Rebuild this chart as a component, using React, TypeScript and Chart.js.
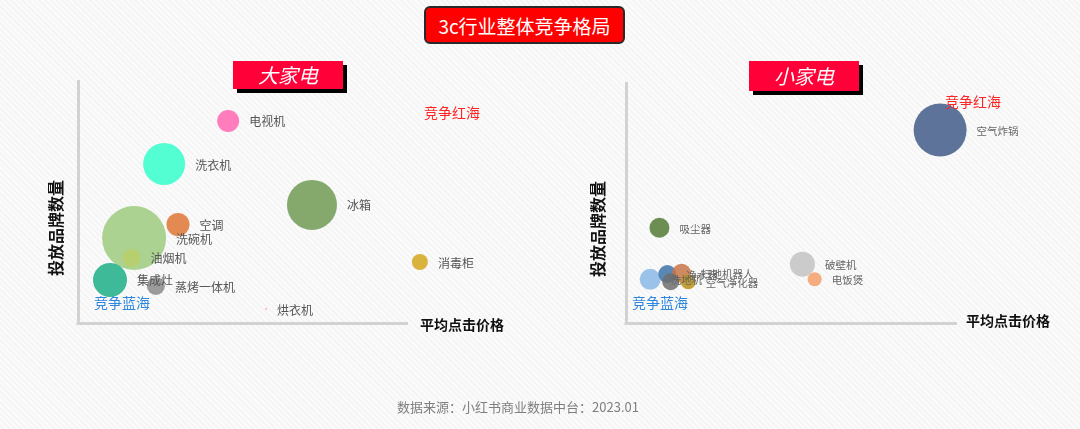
import React, { useEffect, useRef } from "react";
import { Chart, registerables } from "chart.js";

Chart.register(...registerables);

// ---------- axis range (the drawn axis line ends at AXIS_END; the scale runs a little further) ----------
const AXIS_END = 100;
const SCALE_MAX_X = 108;

// ---------- data: 大家电 ----------
const bigNames = ["洗碗机", "集成灶", "油烟机", "电视机", "洗衣机", "冰箱", "空调", "蒸烤一体机", "消毒柜", "烘衣机"];
const bigPrice = [17.0, 9.7, 16.2, 45.5, 26.1, 70.9, 30.3, 23.6, 103.6, 57.0];
const bigBrands = [35.1, 17.8, 26.9, 83.5, 65.7, 48.8, 40.7, 15.3, 25.2, 5.8];
const bigSize = [32, 17, 9, 11, 21, 25, 11.5, 9, 8, 1];
const bigColors = [
  "rgba(166,208,138,0.95)",
  "rgba(52,182,146,0.95)",
  "rgba(184,206,104,0.85)",
  "rgba(255,118,184,0.95)",
  "rgba(74,255,208,0.95)",
  "rgba(126,164,100,0.95)",
  "rgba(224,132,72,0.95)",
  "rgba(150,150,150,0.95)",
  "rgba(216,174,52,0.95)",
  "rgba(255,170,190,0.95)",
];

// ---------- data: 小家电 ----------
const smallNames = ["洗地机", "净水器", "扫地机器人", "", "空气净化器", "空气炸锅", "吸尘器", "破壁机", "电饭煲"];
const smallPrice = [7.3, 12.5, 16.8, 13.5, 18.8, 94.9, 10.1, 53.3, 57.0];
const smallBrands = [18.2, 20.4, 20.7, 17.2, 17.2, 80.4, 39.7, 24.5, 18.2];
const smallSize = [10.5, 9, 9.5, 8.5, 7.5, 26.5, 10, 12.5, 7];
const smallColors = [
  "rgba(150,192,232,0.95)",
  "rgba(72,122,172,0.9)",
  "rgba(200,118,70,0.85)",
  "rgba(110,110,110,0.85)",
  "rgba(190,150,36,0.9)",
  "rgba(88,110,150,0.97)",
  "rgba(104,138,76,0.97)",
  "rgba(200,200,200,0.95)",
  "rgba(244,168,120,0.95)",
];

const CJK = '"Noto Sans CJK SC", "Noto Sans", sans-serif';
const AXIS_COLOR = "#d2d2d2";

const labelPlugin = {
  id: "bubbleLabels",
  afterDatasetsDraw(chart: any, _args: any, opts: any) {
    const ctx = chart.ctx;
    const meta = chart.getDatasetMeta(0);
    const ds = chart.data.datasets[0];
    ctx.save();
    ctx.font = opts.font;
    ctx.fillStyle = opts.color;
    ctx.textBaseline = "middle";
    ctx.textAlign = "left";
    meta.data.forEach((el: any, i: number) => {
      const name = chart.data.labels[i];
      if (!name) return;
      const raw = ds.data[i];
      ctx.fillText(name, el.x + raw.r + opts.gap, el.y + 1);
    });
    ctx.restore();
  },
};

// x axis line, drawn from the y axis to the value AXIS_END on the x scale
const xAxisLinePlugin = {
  id: "xAxisLine",
  beforeDatasetsDraw(chart: any) {
    const { ctx, chartArea } = chart;
    const xs = chart.scales.x;
    ctx.save();
    ctx.strokeStyle = AXIS_COLOR;
    ctx.lineWidth = 3;
    ctx.beginPath();
    ctx.moveTo(chartArea.left - 1.5, chartArea.bottom + 0.5);
    ctx.lineTo(xs.getPixelForValue(AXIS_END), chartArea.bottom + 0.5);
    ctx.stroke();
    ctx.restore();
  },
};

function makeConfig(
  names: string[],
  xs: number[],
  ys: number[],
  rs: number[],
  colors: string[],
  padding: { left: number; right: number; top: number; bottom: number },
  labelFont: string,
  labelColor: string
): any {
  return {
    type: "bubble",
    data: {
      labels: names,
      datasets: [
        {
          data: names.map((_, i) => ({ x: xs[i], y: ys[i], r: rs[i] })),
          backgroundColor: colors,
          borderWidth: 0,
          clip: false,
        },
      ],
    },
    options: {
      animation: false,
      responsive: false,
      events: [],
      layout: { padding },
      plugins: {
        legend: { display: false },
        tooltip: { enabled: false },
        bubbleLabels: { font: labelFont, color: labelColor, gap: 10 },
      },
      scales: {
        x: {
          min: 0,
          max: SCALE_MAX_X,
          ticks: { display: false },
          grid: { display: false, drawTicks: false },
          border: { display: false },
        },
        y: {
          min: 0,
          max: 100,
          ticks: { display: false },
          grid: { display: false, drawTicks: false },
          border: { display: true, color: AXIS_COLOR, width: 3 },
        },
      },
    },
    plugins: [xAxisLinePlugin, labelPlugin],
  };
}

function Panel(props: { left: number; config: () => any }) {
  const ref = useRef<HTMLCanvasElement | null>(null);
  useEffect(() => {
    if (!ref.current) return;
    const chart = new Chart(ref.current, props.config());
    return () => chart.destroy();
  }, []);
  return (
    <canvas
      ref={ref}
      width={540}
      height={429}
      style={{ position: "absolute", left: props.left, top: 0, width: 540, height: 429 }}
    />
  );
}

function Txt(props: {
  x: number;
  y: number;
  size: number;
  color: string;
  bold?: boolean;
  rotate?: boolean;
  children: React.ReactNode;
}) {
  return (
    <div
      style={{
        position: "absolute",
        left: props.x,
        top: props.y,
        transform: `translate(-50%, -50%)${props.rotate ? " rotate(-90deg)" : ""}`,
        fontSize: props.size,
        lineHeight: 1,
        color: props.color,
        fontWeight: props.bold ? 700 : 400,
        fontFamily: CJK,
        whiteSpace: "nowrap",
      }}
    >
      {props.children}
    </div>
  );
}

function Tag(props: { x: number; y: number; w: number; h: number; text: string }) {
  return (
    <div
      style={{
        position: "absolute",
        left: props.x,
        top: props.y,
        width: props.w,
        height: props.h,
        background: "#ff0038",
        boxShadow: "4px 4px 0 #000",
        color: "#fff",
        fontFamily: CJK,
        fontStyle: "italic",
        fontSize: 20,
        display: "flex",
        alignItems: "center",
        justifyContent: "center",
        lineHeight: 1,
      }}
    >
      {props.text}
    </div>
  );
}

// chart area: left panel x 78..408 for 0..100, right panel x 626..957 for 0..100
const leftPad = { left: 78, right: 540 - (78 + 330 * (SCALE_MAX_X / 100)), top: 81, bottom: 106 };
const rightPad = { left: 86, right: 540 - (86 + 331 * (SCALE_MAX_X / 100)), top: 83, bottom: 106 };

export default function App() {
  return (
    <div
      style={{
        position: "absolute",
        left: 0,
        top: 0,
        width: 1080,
        height: 429,
        overflow: "hidden",
        background: "repeating-linear-gradient(45deg, #fbfbfb 0px, #fbfbfb 2px, #f5f5f5 2px, #f5f5f5 4px)",
      }}
    >
      <Panel
        left={0}
        config={() =>
          makeConfig(bigNames, bigPrice, bigBrands, bigSize, bigColors, leftPad, `12px ${CJK}`, "#555555")
        }
      />
      <Panel
        left={540}
        config={() =>
          makeConfig(smallNames, smallPrice, smallBrands, smallSize, smallColors, rightPad, `10.5px ${CJK}`, "#666666")
        }
      />

      {/* main title */}
      <div
        style={{
          position: "absolute",
          left: 424,
          top: 6,
          width: 201,
          height: 38,
          boxSizing: "border-box",
          background: "#ff0000",
          border: "2px solid #2a2a2a",
          borderRadius: 6,
          color: "#fff",
          fontFamily: CJK,
          fontSize: 19,
          display: "flex",
          alignItems: "center",
          justifyContent: "center",
          lineHeight: 1,
        }}
      >
        3c行业整体竞争格局
      </div>

      <Tag x={233} y={61} w={110} h={28} text="大家电" />
      <Tag x={749} y={61} w={110} h={30} text="小家电" />

      <Txt x={55} y={228} size={16} color="#111" bold rotate>投放品牌数量</Txt>
      <Txt x={597} y={229} size={16} color="#111" bold rotate>投放品牌数量</Txt>

      <Txt x={462} y={324} size={14} color="#111" bold>平均点击价格</Txt>
      <Txt x={1008} y={320} size={14} color="#111" bold>平均点击价格</Txt>

      <Txt x={452} y={112} size={14} color="#ff2424">竞争红海</Txt>
      <Txt x={973} y={101} size={14} color="#ff2424">竞争红海</Txt>
      <Txt x={122} y={302} size={14} color="#2e86de">竞争蓝海</Txt>
      <Txt x={660} y={302} size={14} color="#2e86de">竞争蓝海</Txt>

      <Txt x={518} y={406} size={13} color="#7f7f7f">数据来源：小红书商业数据中台：2023.01</Txt>
    </div>
  );
}
